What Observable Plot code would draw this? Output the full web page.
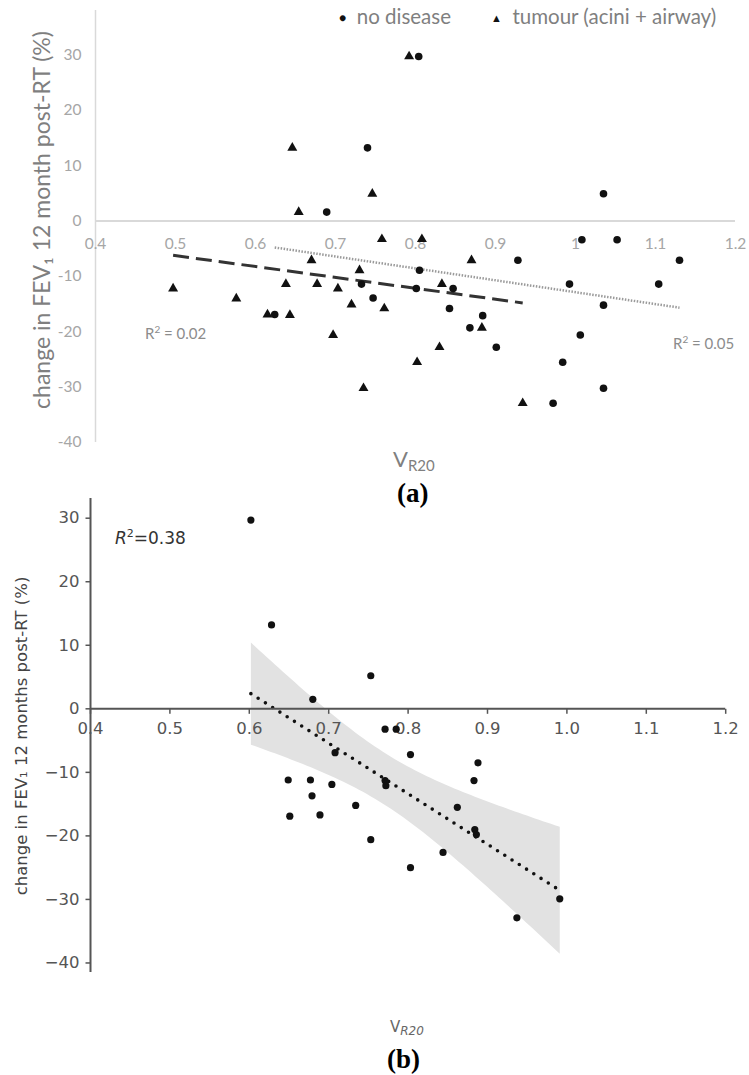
<!DOCTYPE html>
<html>
<head>
<meta charset="utf-8">
<script src="https://cdn.jsdelivr.net/npm/d3@7"></script>
<script src="https://cdn.jsdelivr.net/npm/@observablehq/plot@0.6"></script>
<style>
  body { margin: 0; background: #fff; }
  #fig { position: relative; width: 749px; height: 1075px; background: #fff; overflow: hidden; }
  .ov { position: absolute; white-space: nowrap; line-height: 1; }
  .a { font-family: Lato, "Open Sans", sans-serif; }
  .b { font-family: "DejaVu Sans", sans-serif; }
  .lab { font-family: "Liberation Serif", "Times New Roman", serif; font-weight: bold; font-size: 27px; color: #000; }
</style>
</head>
<body>
<div id="fig">
  <div id="pa" style="position:absolute;left:0;top:0"></div>
  <div id="pb" style="position:absolute;left:0;top:490px"></div>
</div>
<script>
// ---------- Panel (a) data ----------
const noDiseaseV   = [0.624, 0.689, 0.7325, 0.740, 0.747, 0.801, 0.804, 0.805, 0.8425, 0.847, 0.868, 0.884, 0.901, 0.928, 0.972, 0.984, 0.9925, 1.006, 1.008, 1.035, 1.035, 1.035, 1.052, 1.104, 1.130];
const noDiseaseFEV = [-16.9, 1.6, -11.4, 13.2, -13.9, -12.2, 29.7, -8.9, -15.8, -12.2, -19.3, -17.1, -22.8, -7.1, -32.9, -25.5, -11.4, -20.6, -3.4, -15.2, -30.2, 4.9, -3.4, -11.4, -7.1];
const tumourV      = [0.497, 0.576, 0.615, 0.643, 0.638, 0.670, 0.677, 0.703, 0.697, 0.720, 0.730, 0.735, 0.758, 0.761, 0.802, 0.808, 0.830, 0.870, 0.833, 0.883, 0.934, 0.646, 0.654, 0.746, 0.792];
const tumourFEV    = [-12.2, -14.0, -16.9, -17.0, -11.4, -7.1, -11.4, -12.2, -20.6, -15.1, -8.9, -30.2, -3.3, -15.8, -25.5, -3.3, -22.8, -7.1, -11.4, -19.3, -32.9, 13.2, 1.6, 4.9, 29.7];
const xTicksA      = [0.4, 0.5, 0.6, 0.7, 0.8, 0.9, 1.0, 1.1, 1.2];
const xTickLabelsA = ["0.4", "0.5", "0.6", "0.7", "0.8", "0.9", "1", "1.1", "1.2"];
const yTicksA      = [30, 20, 10, 0, -10, -20, -30, -40];
const yTickLabelsA = ["30", "20", "10", "0", "-10", "-20", "-30", "-40"];

// ---------- Panel (b) data ----------
const panelBV   = [0.602, 0.628, 0.680, 0.753, 0.708, 0.649, 0.677, 0.704, 0.679, 0.734, 0.651, 0.689, 0.753, 0.771, 0.785, 0.803, 0.771, 0.772, 0.862, 0.844, 0.803, 0.888, 0.883, 0.884, 0.886, 0.937, 0.991];
const panelBFEV = [29.7, 13.2, 1.5, 5.2, -6.9, -11.2, -11.2, -11.9, -13.7, -15.2, -16.9, -16.7, -20.6, -3.2, -3.2, -7.2, -11.3, -12.1, -15.5, -22.6, -25.0, -8.5, -11.3, -19.0, -19.8, -32.9, -29.9];
const xTicksB      = [0.4, 0.5, 0.6, 0.7, 0.8, 0.9, 1.0, 1.1, 1.2];
const xTickLabelsB = ["0.4", "0.5", "0.6", "0.7", "0.8", "0.9", "1.0", "1.1", "1.2"];
const yTicksB      = [30, 20, 10, 0, -10, -20, -30, -40];
const yTickLabelsB = ["30", "20", "10", "0", "\u221210", "\u221220", "\u221230", "\u221240"];

const noDisease = noDiseaseV.map((v, i) => ({v, fev: noDiseaseFEV[i]}));
const tumour = tumourV.map((v, i) => ({v, fev: tumourFEV[i]}));
const panelB = panelBV.map((v, i) => ({v, fev: panelBFEV[i]}));

// ---------- Panel (a) ----------
const gA = "#a6a6a6";
const plotA = Plot.plot({
  width: 749, height: 470,
  marginLeft: 95, marginRight: 14, marginTop: 10, marginBottom: 28,
  x: {domain: [0.4, 1.2], axis: null},
  y: {domain: [-40, 38], axis: null},
  style: {background: "transparent", fontFamily: "Lato, 'Open Sans', sans-serif"},
  marks: [
    Plot.ruleX([0.4], {stroke: "#d9d9d9", strokeWidth: 1.5}),
    Plot.ruleY([0], {stroke: "#d9d9d9", strokeWidth: 2}),
    Plot.text(xTicksA, {x: d => d, y: 0, text: (d, i) => xTickLabelsA[i], dy: 23, fill: gA, fontSize: 15.5}),
    Plot.text(yTicksA, {x: 0.4, y: d => d, text: (d, i) => yTickLabelsA[i], textAnchor: "end", dx: -14, fill: gA, fontSize: 15.5}),
    Plot.linearRegressionY(tumour, {x: "v", y: "fev", ci: 0, stroke: "#333", strokeWidth: 3, strokeDasharray: "16,7", strokeLinecap: "butt"}),
    Plot.linearRegressionY(noDisease, {x: "v", y: "fev", ci: 0, stroke: "#9a9a9a", strokeWidth: 2.5, strokeDasharray: "1.5,1.5", strokeLinecap: "butt"}),
    Plot.dot(noDisease, {x: "v", y: "fev", r: 3.8, fill: "#111", symbol: "circle"}),
    Plot.dot(tumour, {x: "v", y: "fev", r: 3.7, fill: "#111", symbol: "triangle"})
  ]
});
document.getElementById("pa").appendChild(plotA);

// ---------- Panel (b) ----------
const gB = "#555";
const tickDown = {draw(ctx) { ctx.moveTo(0, 0); ctx.lineTo(0, 5); }};
const tickLeft = {draw(ctx) { ctx.moveTo(0, 0); ctx.lineTo(-5, 0); }};
const plotB = Plot.plot({
  width: 749, height: 490,
  marginLeft: 90, marginRight: 23.8, marginTop: 8, marginBottom: 8,
  x: {domain: [0.4, 1.2], axis: null},
  y: {domain: [-41.5, 33.1], axis: null},
  style: {background: "transparent", fontFamily: "'DejaVu Sans', sans-serif"},
  marks: [
    Plot.linearRegressionY(panelB, {x: "v", y: "fev", ci: 0.95, fill: "#e2e2e2", fillOpacity: 1,
      stroke: "#111", strokeWidth: 3.6, strokeDasharray: "0,8.6", strokeLinecap: "round"}),
    Plot.ruleX([0.4], {stroke: gB, strokeWidth: 2}),
    Plot.ruleY([0], {stroke: gB, strokeWidth: 2}),
    Plot.dot(xTicksB, {x: d => d, y: 0, symbol: tickDown, fill: "none", stroke: gB, strokeWidth: 1.5}),
    Plot.dot(yTicksB, {x: 0.4, y: d => d, symbol: tickLeft, fill: "none", stroke: gB, strokeWidth: 1.5}),
    Plot.text(xTicksB, {x: d => d, y: 0, text: (d, i) => xTickLabelsB[i], dy: 20, fill: gB, fontSize: 16.5}),
    Plot.text(yTicksB, {x: 0.4, y: d => d, text: (d, i) => yTickLabelsB[i], textAnchor: "end", dx: -11, fill: gB, fontSize: 16.5}),
    Plot.dot(panelB, {x: "v", y: "fev", r: 3.6, fill: "#111"})
  ]
});
document.getElementById("pb").appendChild(plotB);

// ---------- Text overlays (titles, legend, annotations) ----------
const fig = document.getElementById("fig");
function place(html, left, cy, cls, style, rotate) {
  const d = document.createElement("div");
  d.className = "ov " + cls;
  d.innerHTML = html;
  d.style.cssText += style || "";
  d.style.left = left + "px";
  d.style.top = cy + "px";
  d.style.transform = rotate ? "translate(-50%,-50%) rotate(-90deg)" : "translateY(-50%)";
  fig.appendChild(d);
}
// legend (a)
place('<span style="font-size:12px;color:#111;position:relative;top:-2px">&#9679;</span>&nbsp;&nbsp;no disease', 339, 16, "a", "font-size:20.5px;color:#7f7f7f");
place('<span style="font-size:11px;color:#111;position:relative;top:-2px">&#9650;</span>&nbsp;&nbsp;tumour (acini + airway)', 491, 16, "a", "font-size:20.5px;color:#7f7f7f");
// axis titles (a)
place('change in FEV\u2081 12 month post-RT (%)', 41, 220, "a", "font-size:23px;color:#7f7f7f", true);
place('V<sub style="font-size:15px;vertical-align:-4px">R20</sub>', 393, 460, "a", "font-size:22px;color:#808080");
// R² (a)
place('R<sup style="font-size:10px;vertical-align:6px">2</sup> = 0.02', 145, 332, "a", "font-size:15px;color:#8c8c8c");
place('R<sup style="font-size:10px;vertical-align:6px">2</sup> = 0.05', 673, 342, "a", "font-size:15px;color:#8c8c8c");
place('(a)', 397, 493, "lab", "");
// panel (b)
place('<i>R</i><sup style="font-size:11px;vertical-align:7px">2</sup>=0.38', 115, 537, "b", "font-size:17px;color:#333");
place('change in FEV\u2081 12 months post-RT (%)', 22, 736, "b", "font-size:16.5px;color:#444", true);
place('V<sub style="font-size:12px;vertical-align:-3px;font-style:italic">R20</sub>', 390, 1028, "b", "font-size:15px;color:#666");
place('(b)', 387, 1059, "lab", "");
</script>
</body>
</html>
